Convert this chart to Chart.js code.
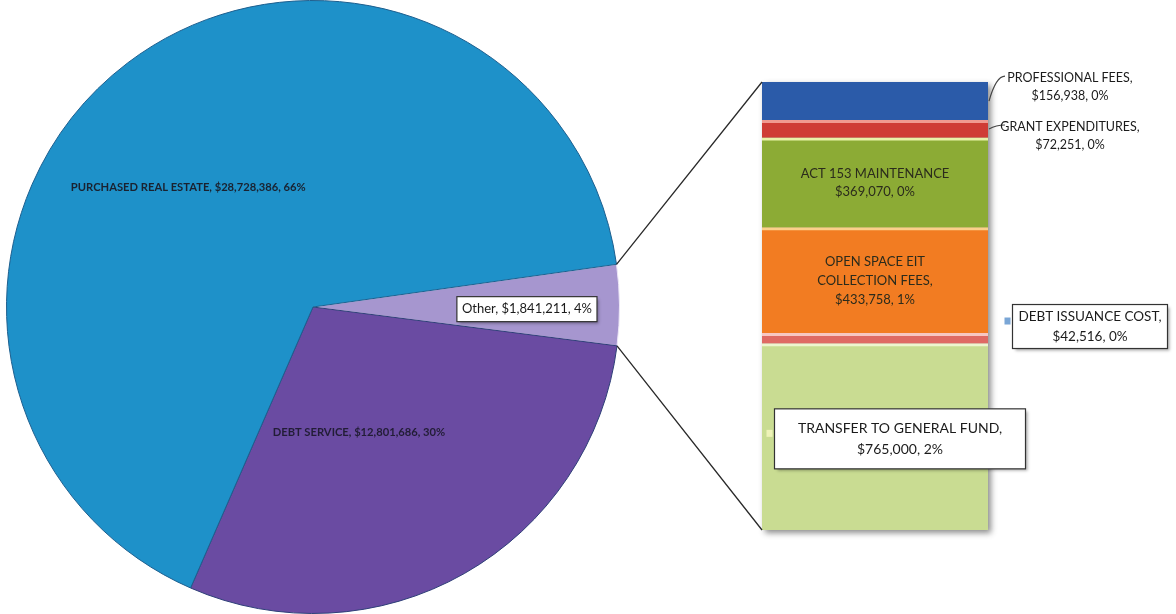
<!DOCTYPE html>
<html>
<head>
<meta charset="utf-8">
<script src="https://cdn.jsdelivr.net/npm/chart.js@4.4.1/dist/chart.umd.min.js"></script>
<style>
  html, body { margin: 0; padding: 0; background: #fff; }
  #wrap { position: relative; width: 1176px; height: 614px; overflow: hidden; }
  #wrap canvas { position: absolute; left: 0; top: 0; }
</style>
</head>
<body>
<div id="wrap">
  <canvas id="pieChart" width="1176" height="614"></canvas>
  <canvas id="barChart" width="1176" height="614"></canvas>
</div>
<script>
// Main split (pie) - "Other" is broken out into the stacked bar
const pieNames = ['Other', 'DEBT SERVICE', 'PURCHASED REAL ESTATE'];
const pieValues = [1841211, 12801686, 28728386];
const pieShares = [4, 30, 66];
const pieColors = ['#a696cf', '#6a4ba2', '#1e91c9'];

// Breakdown of "Other", bottom to top
const otherNames = [
  ['TRANSFER TO GENERAL FUND,'],
  ['DEBT ISSUANCE COST,'],
  ['OPEN SPACE EIT', 'COLLECTION FEES,'],
  ['ACT 153 MAINTENANCE'],
  ['GRANT EXPENDITURES,'],
  ['PROFESSIONAL FEES,']
];
const otherValues = [765000, 42516, 433758, 369070, 72251, 156938];
const otherShares = [2, 0, 1, 0, 0, 0];
const otherColors = ['#c9dc92', '#df6a64', '#f27c22', '#8cab35', '#cf3c35', '#2b5ba9'];
const otherEdges = ['#eef5cf', '#f7c7c2', '#fbd08a', '#e9f2a8', '#f09a90', '#2b5ba9'];

const otherTotal = otherValues.reduce((a, b) => a + b, 0);
const money = v => '$' + v.toLocaleString('en-US');
const FONT = 'Lato, "Open Sans", sans-serif';

function boxLabel(ctx, lines, cx, cy, w, h, size) {
  ctx.save();
  ctx.shadowColor = 'rgba(0,0,0,0.35)';
  ctx.shadowOffsetX = 2;
  ctx.shadowOffsetY = 2;
  ctx.shadowBlur = 3;
  ctx.fillStyle = '#fff';
  ctx.fillRect(cx - w / 2, cy - h / 2, w, h);
  ctx.restore();
  ctx.save();
  ctx.strokeStyle = '#333';
  ctx.lineWidth = 1.2;
  ctx.strokeRect(cx - w / 2, cy - h / 2, w, h);
  textLines(ctx, lines, cx, cy, size, '#1b1b1b');
  ctx.restore();
}

function textLines(ctx, lines, cx, cy, size, color, align, weight) {
  ctx.save();
  ctx.font = `${weight || 'normal'} ${size}px ${FONT}`;
  ctx.fillStyle = color;
  ctx.textAlign = align || 'center';
  ctx.textBaseline = 'middle';
  const lh = size * 1.45;
  const top = cy - (lines.length - 1) * lh / 2;
  lines.forEach((l, i) => ctx.fillText(l, cx, top + i * lh));
  ctx.restore();
}

// Pie labels, placed relative to pie centre / radius
const pieLabelPlugin = {
  id: 'pieLabels',
  afterDatasetsDraw(chart) {
    const ctx = chart.ctx;
    const arcs = chart.getDatasetMeta(0).data;
    const cx = arcs[0].x, cy = arcs[0].y, r = arcs[0].outerRadius;
    const txt = i => `${pieNames[i]}, ${money(pieValues[i])}, ${pieShares[i]}%`;

    textLines(ctx, [txt(2)], cx - 0.79 * r, cy - 0.39 * r, 11.2, '#1a2230', 'left', 'bold');
    textLines(ctx, [txt(1)], cx + 0.15 * r, cy + 0.41 * r, 11.2, '#221d36', 'center', 'bold');

    ctx.save();
    ctx.font = `13px ${FONT}`;
    const w = ctx.measureText(txt(0)).width + 10;
    ctx.restore();
    boxLabel(ctx, [txt(0)], cx + 0.698 * r, cy + 0.007 * r, w, 25, 13);
  }
};

const pieChart = new Chart(document.getElementById('pieChart'), {
  type: 'pie',
  data: {
    labels: pieNames,
    datasets: [{
      data: pieValues,
      backgroundColor: pieColors,
      borderColor: ['#ece6f7', '#2e3f78', '#1d5f8f'],
      borderWidth: 1
    }]
  },
  options: {
    responsive: false,
    animation: false,
    rotation: 82,
    layout: { padding: { left: 6, top: 0, right: 556, bottom: 0 } },
    plugins: { legend: { display: false }, tooltip: { enabled: false } }
  },
  plugins: [pieLabelPlugin]
});

// where each breakdown label goes, relative to its bar segment
const labelPlacement = [
  { mode: 'box', dx: 138, dy: 2, w: 251, h: 60, size: 14, marker: '#eef3b8' },
  { mode: 'box', dx: 328, dy: -12, w: 155, h: 44, size: 13.5, marker: '#7aa6d6' },
  { mode: 'inside', size: 13 },
  { mode: 'inside', size: 13 },
  { mode: 'right', dx: 82, dy: 7, size: 12.5 },
  { mode: 'right', dx: 82, dy: -14, size: 12.5 }
];

const barDecorPlugin = {
  id: 'barDecor',
  beforeDatasetsDraw(chart) {
    const ctx = chart.ctx;
    const a = chart.chartArea;
    ctx.save();
    ctx.shadowColor = 'rgba(0,0,0,0.45)';
    ctx.shadowBlur = 6;
    ctx.shadowOffsetX = 3;
    ctx.shadowOffsetY = 3;
    ctx.fillStyle = '#888';
    ctx.fillRect(a.left, a.top, a.right - a.left, a.bottom - a.top);
    ctx.restore();
  },
  afterDraw(chart) {
    const ctx = chart.ctx;
    const metas = otherValues.map((_, i) => chart.getDatasetMeta(i).data[0]);
    const left = metas[0].x - metas[0].width / 2;
    const right = metas[0].x + metas[0].width / 2;
    const top = metas[metas.length - 1].y;
    const bottom = metas[0].base;

    // connectors from the "Other" slice to the bar
    const arc = pieChart.getDatasetMeta(0).data[0];
    const p = ang => [arc.x + Math.cos(ang) * arc.outerRadius, arc.y + Math.sin(ang) * arc.outerRadius];
    const s = p(arc.startAngle), e = p(arc.endAngle);
    ctx.save();
    ctx.strokeStyle = '#2a2a2a';
    ctx.lineWidth = 1.3;
    ctx.beginPath();
    ctx.moveTo(s[0], s[1]); ctx.lineTo(left, top);
    ctx.moveTo(e[0], e[1]); ctx.lineTo(left, bottom);
    ctx.stroke();
    ctx.restore();

    metas.forEach((bar, i) => {
      const mid = (bar.y + bar.base) / 2;
      const lp = labelPlacement[i];
      const lines = otherNames[i].concat([`${money(otherValues[i])}, ${otherShares[i]}%`]);
      if (lp.mode === 'inside') {
        textLines(ctx, lines, bar.x, mid, lp.size, '#2b2b1c');
      } else if (lp.mode === 'right') {
        const tx = right + lp.dx, ty = mid + lp.dy;
        ctx.save();
        ctx.strokeStyle = '#444';
        ctx.lineWidth = 1.2;
        ctx.beginPath();
        ctx.moveTo(right + 1, mid);
        ctx.quadraticCurveTo(right + 8, ty - 11, right + 17, ty - 11);
        ctx.stroke();
        ctx.restore();
        textLines(ctx, lines, tx, ty, lp.size, '#1b1b1b');
      } else {
        const bx = left + lp.dx, by = mid + lp.dy;
        ctx.save();
        ctx.fillStyle = lp.marker;
        ctx.fillRect(bx - lp.w / 2 - 8, by - 9, 6, 7);
        ctx.restore();
        boxLabel(ctx, lines, bx, by, lp.w, lp.h, lp.size);
      }
    });
  }
};

new Chart(document.getElementById('barChart'), {
  type: 'bar',
  data: {
    labels: ['Other'],
    datasets: otherValues.map((v, i) => ({
      label: otherNames[i].join(' '),
      data: [v],
      backgroundColor: otherColors[i],
      borderColor: otherEdges[i],
      borderWidth: { top: 3, bottom: 0, left: 0, right: 0 },
      borderSkipped: false,
      barPercentage: 1,
      categoryPercentage: 1
    }))
  },
  options: {
    responsive: false,
    animation: false,
    layout: { padding: { left: 762, right: 188, top: 82, bottom: 84 } },
    scales: {
      x: { display: false, stacked: true },
      y: { display: false, stacked: true, min: 0, max: otherTotal }
    },
    plugins: { legend: { display: false }, tooltip: { enabled: false } }
  },
  plugins: [barDecorPlugin]
});
</script>
</body>
</html>
